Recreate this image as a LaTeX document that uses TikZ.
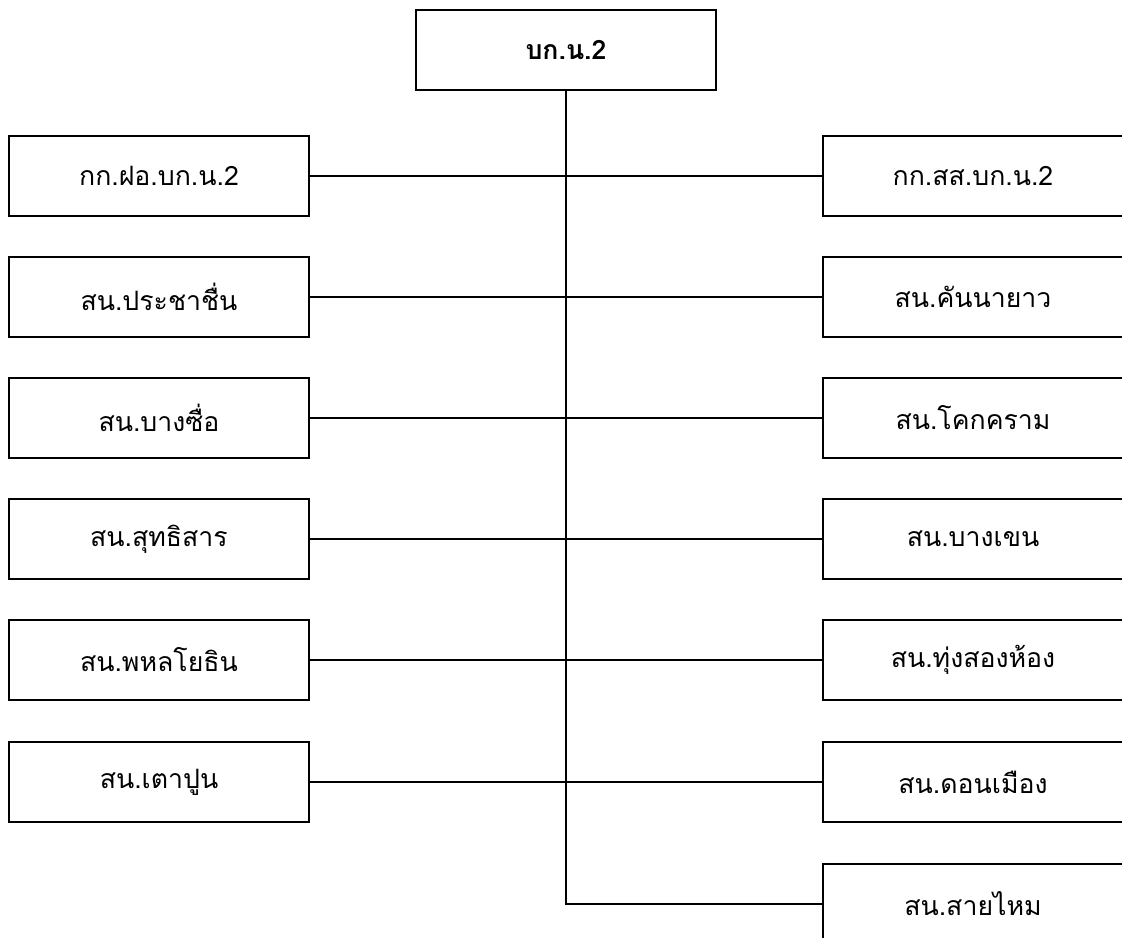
\documentclass[tikz,border=0pt]{standalone}
\usepackage{fontspec}
\newfontfamily\thaifont[Script=Thai]{Loma}
\usetikzlibrary{positioning}

\begin{document}
\begin{tikzpicture}[x=0.75pt, y=-0.75pt, line width=1.1pt,
    unit/.style={draw, rectangle, minimum width=225pt, minimum height=60pt,
      font=\thaifont\fontsize{20}{24}\selectfont},
    head/.style={unit, font=\thaifont\bfseries\fontsize{20}{24}\selectfont}]
    \useasboundingbox (0, 0) rectangle (1122, 938);

    \node[head] (hq) at (566, 50) {บก.น.2};

    % left column
    \node[unit] (admin) at (159, 176) {กก.ฝอ.บก.น.2};
    \node[unit] (prachachuen) at (159, 297) {สน.ประชาชื่น};
    \node[unit] (bangsue) at (159, 418) {สน.บางซื่อ};
    \node[unit] (sutthisan) at (159, 539) {สน.สุทธิสาร};
    \node[unit] (phahon) at (159, 660) {สน.พหลโยธิน};
    \node[unit] (taopoon) at (159, 782) {สน.เตาปูน};

    % right column
    \node[unit] (intel) at (973, 176) {กก.สส.บก.น.2};
    \node[unit] (kannayao) at (973, 297) {สน.คันนายาว};
    \node[unit] (khokkram) at (973, 418) {สน.โคกคราม};
    \node[unit] (bangkhen) at (973, 539) {สน.บางเขน};
    \node[unit] (thungsonghong) at (973, 660) {สน.ทุ่งสองห้อง};
    \node[unit] (donmuang) at (973, 782) {สน.ดอนเมือง};
    \node[unit] (saimai) at (973, 904) {สน.สายไหม};

    \coordinate (corner) at (566, 904);

    \draw (hq.south) -- (corner) -- (saimai.west);
    \path (admin) edge (intel);
    \path (prachachuen) edge (kannayao);
    \path (bangsue) edge (khokkram);
    \path (sutthisan) edge (bangkhen);
    \path (phahon) edge (thungsonghong);
    \path (taopoon) edge (donmuang);
\end{tikzpicture}
\end{document}
